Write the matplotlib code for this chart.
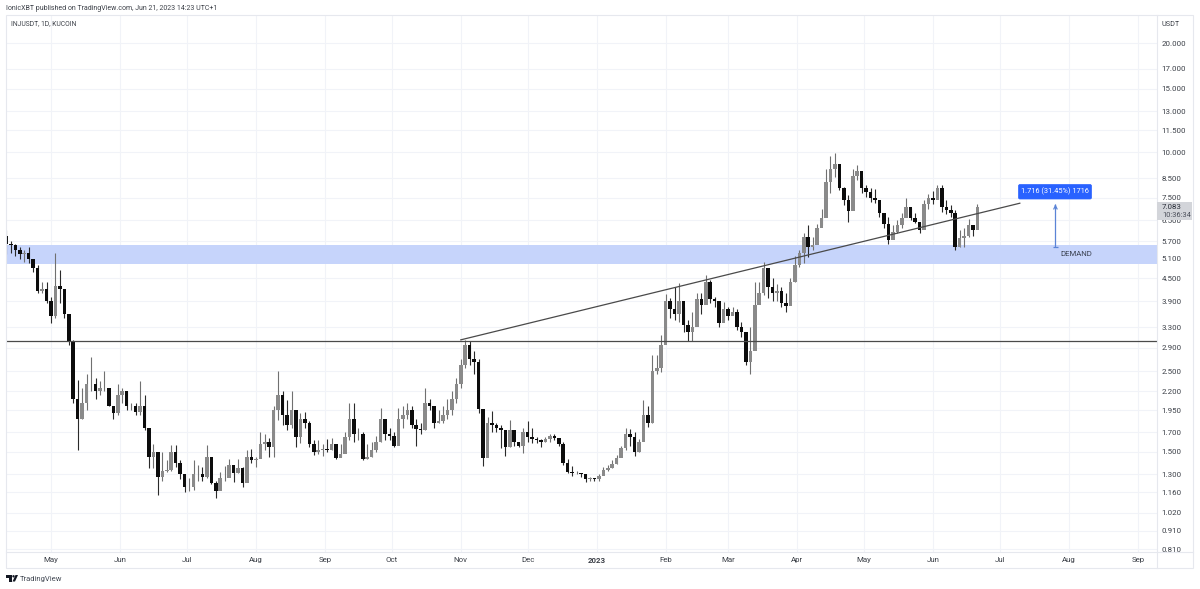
import datetime as dt
import matplotlib
matplotlib.use("Agg")
import matplotlib.pyplot as plt
import matplotlib.dates as mdates
from matplotlib.patches import Rectangle, FancyBboxPatch, Polygon, Circle
from matplotlib.lines import Line2D

plt.rcParams['font.family'] = ['Roboto', 'DejaVu Sans']

# two-day candles, first one on 2022-04-11
first_day = dt.date(2022, 4, 11)
step_days = 2
first_open = 5.9
highs = [
 6.1,5.7,5.6,5.5,5.4,5.5,5.0,4.9,4.4,4.4, 4.0,5.3,4.75,4.0,3.5,3.05,2.37,2.25,2.45,2.74,
 2.4,2.35,2.5,2.25,2.0,2.3,2.25,2.2,2.05,2.05, 2.35,2.15,1.75,1.58,1.5,1.5,1.42,1.57,1.57,1.42,
 1.3,1.27,1.42,
 1.38,1.36,1.57,1.44,1.25,1.32,1.37,1.43,1.36,1.43, 1.36,1.52,1.53,1.45,1.7,1.68,1.64,2.0,2.5,2.2,
 2.08,2.2,1.92,1.92,1.93,1.82,1.62,1.62,1.58,1.63, 1.64,1.55,
 1.58,1.7,2.05,2.04,1.75,1.7,1.58,1.6,1.66,1.98, 1.85,1.75,1.7,1.98,2.0,2.04,2.0,1.85,1.8,2.25,
 2.1,2.0,1.95,2.0,2.1,2.2,2.4,2.7,3.05,3.02, 2.85,
 2.7,1.97,1.87,1.94,1.8,1.78,1.7,1.84,1.65,1.6, 1.75,1.82,1.75,1.65,1.63,1.65,1.68,1.68,1.63,1.6,
 1.43,1.37,1.33,1.31,1.3,1.28,1.27,1.3,1.36,1.38, 1.42,1.47,1.56,1.75,1.73,1.7,1.63,
 2.08,2.0,2.77,2.77,3.15,4.08,3.98,4.27,4.38,3.75, 3.45,3.65,4.1,4.1,4.6,4.46,4.0,3.85,3.88,3.75,
 3.75,3.72,3.42,3.1,3.3,4.4,4.4,5.0,4.46,4.5, 4.35,4.25,4.1,4.5,5.2,
 5.39,6.0,6.3,5.85,6.35,7.0,9.0,9.75,9.95,9.25, 8.05,7.65,9.0,9.25,8.55,8.15,8.0,7.95,7.4,6.75,
 6.65,6.3,6.5,6.8,7.5,7.05,6.8,6.4,7.4,7.7, 7.85,8.15,8.15,7.4,7.15,6.95,6.1,6.2,6.55,6.3,
 7.2]
lows = [
 5.26,5.3,5.2,5.1,5.0,4.95,4.7,4.1,4.1,3.85, 3.4,3.5,3.85,3.5,2.95,2.05,1.52,1.85,1.95,2.2,
 2.1,2.15,2.2,2.0,1.85,1.9,2.05,1.95,1.95,1.9, 1.9,1.72,1.35,1.35,1.14,1.25,1.32,1.33,1.36,1.26,
 1.16,1.17,1.18,
 1.25,1.25,1.27,1.22,1.12,1.18,1.25,1.28,1.24,1.31, 1.2,1.31,1.4,1.36,1.45,1.52,1.45,1.45,1.84,1.78,
 1.72,1.75,1.55,1.59,1.75,1.55,1.47,1.48,1.46,1.5, 1.52,1.43,
 1.45,1.55,1.62,1.6,1.62,1.42,1.43,1.45,1.5,1.6, 1.62,1.62,1.55,1.6,1.75,1.85,1.75,1.56,1.68,1.72,
 1.95,1.75,1.8,1.8,1.85,1.9,2.05,2.25,2.55,2.6, 2.45,
 1.92,1.37,1.62,1.7,1.7,1.54,1.46,1.55,1.56,1.55, 1.49,1.6,1.59,1.59,1.55,1.6,1.6,1.62,1.56,1.38,
 1.31,1.29,1.3,1.28,1.24,1.25,1.25,1.25,1.31,1.33, 1.35,1.39,1.45,1.52,1.56,1.46,1.5,
 1.64,1.76,1.8,2.45,2.48,3.05,3.5,3.45,3.42,3.2, 3.03,3.03,3.45,3.6,3.95,3.85,3.75,3.3,3.45,3.45,
 3.6,3.25,3.1,2.6,2.45,3.0,3.88,4.05,3.98,3.9, 3.9,3.75,3.65,4.15,4.4,
 4.83,4.95,5.15,5.4,5.6,6.3,6.7,7.75,8.55,7.9, 7.15,6.45,7.1,8.4,7.75,7.55,7.3,7.25,6.65,6.2,
 5.6,5.8,6.0,6.2,6.65,6.5,6.4,6.0,6.4,7.0, 7.2,7.5,6.85,6.75,6.65,5.4,5.5,5.5,5.85,5.9,
 6.3]
closes = [
 5.6,5.55,5.4,5.25,5.3,5.1,4.8,4.15,4.2,3.9, 3.55,4.3,4.2,3.6,3.0,2.1,1.85,2.05,2.3,2.3,
 2.2,2.25,2.25,2.0,1.92,2.15,2.2,2.0,2.0,1.93, 2.0,1.75,1.45,1.5,1.28,1.33,1.34,1.5,1.4,1.3,
 1.2,1.2,1.3,
 1.3,1.28,1.45,1.23,1.17,1.27,1.27,1.38,1.31,1.35, 1.23,1.45,1.42,1.43,1.58,1.6,1.55,1.95,2.15,1.9,
 1.78,1.95,1.65,1.85,1.8,1.58,1.5,1.52,1.53,1.52, 1.58,1.44,
 1.48,1.65,1.85,1.68,1.68,1.43,1.45,1.52,1.6,1.85, 1.68,1.66,1.56,1.85,1.9,1.95,1.78,1.73,1.72,2.05,
 2.0,1.8,1.82,1.9,1.95,2.1,2.3,2.6,2.95,2.7, 2.65,
 1.97,1.44,1.8,1.78,1.74,1.72,1.55,1.72,1.6,1.56, 1.7,1.65,1.63,1.62,1.6,1.63,1.66,1.64,1.58,1.4,
 1.32,1.31,1.31,1.3,1.26,1.27,1.26,1.29,1.34,1.35, 1.39,1.44,1.54,1.68,1.65,1.5,1.6,
 1.9,1.8,2.5,2.55,2.95,3.9,3.7,3.6,3.9,3.35, 3.2,3.3,3.95,3.8,4.4,3.95,3.9,3.4,3.7,3.55,
 3.65,3.3,3.2,2.65,2.85,3.8,4.1,4.8,4.25,4.1, 4.15,3.85,3.78,4.4,4.9,
 5.3,5.85,5.5,5.55,6.2,6.6,8.3,9.0,9.3,8.0, 7.4,6.9,8.6,8.9,8.0,7.8,7.5,7.4,6.8,6.35,
 5.75,6.05,6.3,6.6,7.1,6.6,6.45,6.1,7.2,7.5, 7.4,8.0,7.1,6.95,6.8,5.5,5.8,5.9,6.3,6.1,
 7.08]

price_ticks = [20, 17, 15, 13, 11.5, 10, 8.5, 7.5, 6.5, 5.7, 5.1, 4.5, 3.9, 3.3, 2.9, 2.5, 2.2,
               1.95, 1.7, 1.5, 1.3, 1.16, 1.02, 0.91, 0.81]
month_ticks = [dt.date(2022, m, 1) for m in range(5, 13)] + \
              [dt.date(2023, m, 1) for m in range(1, 10)]
month_labels = ['May', 'Jun', 'Jul', 'Aug', 'Sep', 'Oct', 'Nov', 'Dec', '2023',
                'Feb', 'Mar', 'Apr', 'May', 'Jun', 'Jul', 'Aug', 'Sep']

support_price = 3.03
demand_low, demand_high = 4.92, 5.57
trend_dates = [dt.date(2022, 11, 1), dt.date(2023, 7, 10)]
trend_prices = [3.05, 7.25]
measure_date = dt.date(2023, 7, 26)
measure_low, measure_high = 5.49, 7.2

W, H = 1200, 589
fig = plt.figure(figsize=(W / 100, H / 100), dpi=100, facecolor='white')
L, R, T, B = 6, 1157, 15, 552
ax = fig.add_axes([L / W, 1 - B / H, (R - L) / W, (B - T) / H])

n = min(len(highs), len(lows), len(closes))
days = [first_day + dt.timedelta(days=step_days * i) for i in range(n)]
xs = mdates.date2num(days)
opens = [first_open] + closes[:n - 1]

ax.set_yscale('log')
ax.set_ylim(0.795, 23.9)
ax.set_xlim(mdates.date2num(dt.date(2022, 5, 1)) - 20.2,
            mdates.date2num(dt.date(2022, 5, 1)) + 496.6)

GRID = '#f1f3f8'
ax.set_yticks(price_ticks)
ax.set_yticklabels([f'{p:.3f}' for p in price_ticks])
ax.minorticks_off()
ax.yaxis.tick_right()
ax.set_xticks(mdates.date2num(month_ticks))
ax.set_xticklabels(month_labels)
ax.grid(True, color=GRID, lw=0.8, zorder=0)
ax.set_axisbelow(True)
ax.tick_params(axis='y', length=0, pad=3.2, labelsize=5.7, labelcolor='#3c4048')
ax.tick_params(axis='x', length=0, pad=3.8, labelsize=5.7, labelcolor='#3c4048')
for lab in ax.get_xticklabels():
    if lab.get_text() == '2023':
        lab.set_fontweight('bold')
for s in ax.spines.values():
    s.set_visible(False)

ax.axhspan(demand_low, demand_high, color='#c6d4fb', lw=0, zorder=1)
ax.set_xlim(ax.get_xlim())

UP, DOWN = '#8a8a8a', '#0c0c0c'
for x, o, h, l, c in zip(xs, opens, highs, lows, closes):
    col = UP if c >= o else DOWN
    ax.vlines(x, l, h, color='#707070' if c >= o else '#2a2a2a', lw=0.8, zorder=3)
    ax.bar(x, abs(c - o), bottom=min(o, c), width=1.6, color=col, lw=0, zorder=3)

ax.axhline(support_price, color='#4a4a4a', lw=0.9, zorder=4)
ax.plot(mdates.date2num(trend_dates), trend_prices, color='#4a4a4a', lw=0.9, zorder=4)
mx = mdates.date2num(measure_date)
ax.vlines(mx, measure_low, measure_high, color='#5b84d6', lw=0.9, zorder=5)
ax.annotate('', xy=(mx, measure_high), xytext=(mx, measure_high * 0.97),
            arrowprops=dict(arrowstyle='->', color='#5b84d6', lw=0.9, mutation_scale=6), zorder=5)
ax.hlines(measure_low, mx - 1.2, mx + 1.2, color='#5b84d6', lw=0.9, zorder=5)

# overlay in pixel coordinates for the page furniture
ov = fig.add_axes([0, 0, 1, 1], facecolor='none')
ov.set_xlim(0, W)
ov.set_ylim(H, 0)
ov.axis('off')
BORDER = '#e6e8ee'
ov.add_patch(Rectangle((6, 15), 1187, 553, fill=False, ec=BORDER, lw=0.8))
ov.add_line(Line2D([1157, 1157], [15, 568], color=BORDER, lw=0.8))
ov.add_line(Line2D([6, 1193], [552, 552], color=BORDER, lw=0.8))

ov.text(6, 9, 'IonicXBT published on TradingView.com, Jun 21, 2023 14:23 UTC+1',
        fontsize=5.05, color='#3c4048', va='center', ha='left')
ov.text(11, 24, 'INJUSDT, 1D, KUCOIN', fontsize=4.9, color='#3c4048', va='center', ha='left')
ov.text(1162, 24, 'USDT', fontsize=5.2, color='#3c4048', va='center', ha='left')
ov.text(1060, 254.5, 'DEMAND', fontsize=5.6, color='#3a4150', va='center', ha='left')

ov.add_patch(FancyBboxPatch((1019, 185), 72, 13.5, boxstyle='round,pad=0.5,rounding_size=1.5',
                            fc='#2962ff', ec='#2962ff', lw=0.5))
ov.text(1055, 191.5, '1.716 (31.45%) 1716', fontsize=5.3, color='white', va='center', ha='center')

ov.add_patch(Rectangle((1157, 202), 35, 18, fc='#d3d5da', ec='none', zorder=5))
ov.text(1162, 207, '7.083', fontsize=5.7, color='#2a2e39', va='center', ha='left', zorder=6)
ov.text(1162, 215.5, '10:36:34', fontsize=5.4, color='#4a4e59', va='center', ha='left', zorder=6)

# logo
ov.add_patch(Polygon([(6, 575), (12, 575), (12, 581.5), (9, 581.5), (9, 578), (6, 578)], fc='#131722', ec='none'))
ov.add_patch(Circle((13.5, 576.3), 1.2, fc='#131722', ec='none'))
ov.add_patch(Polygon([(15.5, 575), (18, 575), (15, 581.5), (12.5, 581.5)], fc='#131722', ec='none'))
ov.text(20, 578.5, 'TradingView', fontsize=5.5, color='#444a55', va='center', ha='left')

fig.savefig('out.png', dpi=100, facecolor='white')
